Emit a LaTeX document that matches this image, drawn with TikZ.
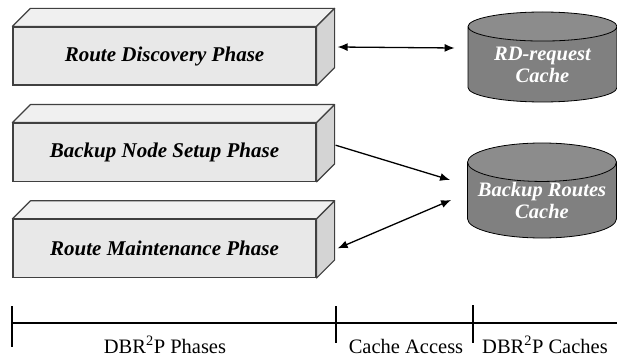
\documentclass[tikz,border=0pt]{standalone}
\usepackage{fontspec}
\setmainfont{Liberation Serif}
\usetikzlibrary{positioning,shapes.geometric,arrows.meta}

\begin{document}
\begin{tikzpicture}[
            x=1pt,y=1pt,
            >={Latex[length=10pt,width=8pt]},
            phase/.style={
              draw=black!75,
              line width=1.2pt,
              fill=black!9,
              minimum width=303pt,
              minimum height=58pt,
              inner sep=0pt,
              font=\fontsize{21}{24}\selectfont\bfseries\itshape
            },
            topface/.style={
              draw=black!75,
              line width=1.2pt,
              fill=black!6,
              line join=round
            },
            sideface/.style={
              draw=black!75,
              line width=1.2pt,
              fill=black!17,
              line join=round
            },
            cache/.style={
              cylinder,
              shape border rotate=90,
              aspect=0.3,
              draw=black,
              line width=0.8pt,
              cylinder uses custom fill,
              cylinder body fill=black!50,
              cylinder end fill=black!45,
              minimum width=149pt,
              minimum height=90pt,
              inner sep=0pt,
              align=center,
              text=white,
              anchor=shape center,
              font=\fontsize{20.5}{22}\selectfont\bfseries\itshape
            },
            link/.style={line width=1.3pt},
            axis/.style={line width=1.1pt},
            span/.style={font=\fontsize{20.5}{24}\selectfont, anchor=base},
            node distance=37pt
            ]
            \useasboundingbox (0,0) rectangle (617,-358);

            % phases
            \node[phase] at (164.5,-56)
              (disc) {Route Discovery Phase};
            \node[phase,below=of disc]
              (setup) {Backup Node Setup Phase};
            \node[phase,below=of setup]
              (maint) {Route Maintenance Phase};

            \draw[topface] (disc.north west) -- ++(18,18) -- ([shift={(18,18)}]disc.north east) -- (disc.north east) -- cycle;
            \draw[sideface] (disc.north east) -- ++(18,18) -- ([shift={(18,18)}]disc.south east) -- (disc.south east) -- cycle;
            \draw[topface] (setup.north west) -- ++(18,18) -- ([shift={(18,18)}]setup.north east) -- (setup.north east) -- cycle;
            \draw[sideface] (setup.north east) -- ++(18,18) -- ([shift={(18,18)}]setup.south east) -- (setup.south east) -- cycle;
            \draw[topface] (maint.north west) -- ++(18,18) -- ([shift={(18,18)}]maint.north east) -- (maint.north east) -- cycle;
            \draw[sideface] (maint.north east) -- ++(18,18) -- ([shift={(18,18)}]maint.south east) -- (maint.south east) -- cycle;

            % caches
            \node[cache] at (542.5,-57)
              (rdcache) {RD-request\\Cache};
            \node[cache,minimum height=95pt] at (542,-190.5)
              (brcache) {Backup Routes\\Cache};

            \draw[link,<->] ([shift={(21,9)}]disc.east) -- ([xshift=-13pt]rdcache.west |- 0,-48);
            \draw[link,->] ([shift={(19,7)}]setup.east) -- ([xshift=-17pt]brcache.west |- 0,-180);
            \draw[link,<->] ([shift={(21,0)}]maint.east) -- ([xshift=-16pt]brcache.west |- 0,-200);

            % time line
            \coordinate (t0) at (12,-323);
            \coordinate (t1) at (336,-323);
            \coordinate (t2) at (473,-323);
            \coordinate (tend) at (617,-323);
            \draw[axis] (t0) -- (tend);
            \draw[axis] ([yshift=17pt]t0) -- ([yshift=-24pt]t0);
            \draw[axis] ([yshift=17pt]t1) -- ([yshift=-20pt]t1);
            \draw[axis] ([yshift=18pt]t2) -- ([yshift=-20pt]t2);

            \node[span] at (165,-353) (phases) {DBR\textsuperscript{2}P Phases};
            \node[span] at (406,-353) (access) {Cache Access};
            \node[span] at (545,-353) (caches) {DBR\textsuperscript{2}P Caches};
            \end{tikzpicture}
\end{document}
